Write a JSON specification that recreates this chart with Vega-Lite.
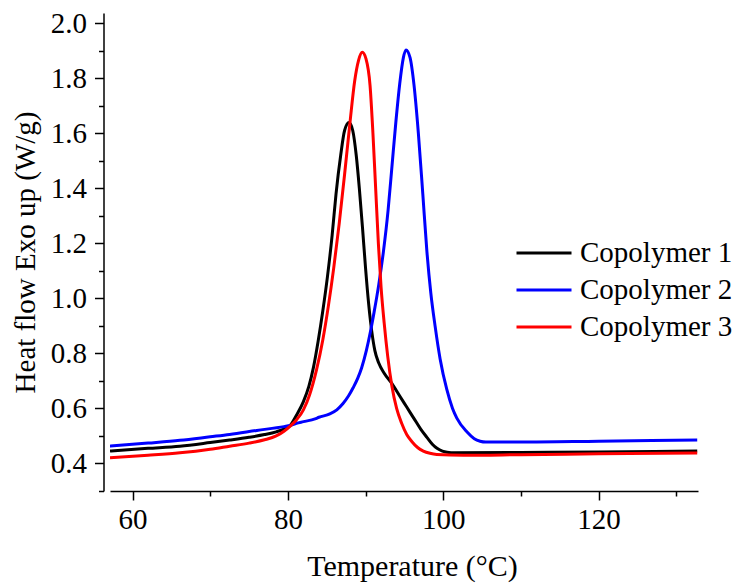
{
  "$schema": "https://vega.github.io/schema/vega-lite/v6.json",
  "width": 588,
  "height": 478,
  "autosize": "none",
  "padding": {"left": 110, "top": 13, "right": 38, "bottom": 93},
  "background": "white",
  "config": {
    "view": {"stroke": null},
    "font": "Liberation Serif",
    "axis": {
      "domainColor": "black", "domainWidth": 1.5, "tickColor": "black", "tickWidth": 1.5,
      "labelColor": "black", "titleColor": "black", "labelFont": "Liberation Serif",
      "titleFont": "Liberation Serif", "labelFontSize": 29, "titleFontSize": 29,
      "titleFontWeight": "normal", "grid": false
    }
  },
  "data": {"values": [
    {"s":"Copolymer 1","t":57.1,"v":0.445},{"s":"Copolymer 1","t":62,"v":0.455},{"s":"Copolymer 1","t":66.1,"v":0.463},{"s":"Copolymer 1","t":70,"v":0.476},{"s":"Copolymer 1","t":72.5,"v":0.485},{"s":"Copolymer 1","t":75,"v":0.495},{"s":"Copolymer 1","t":77,"v":0.505},{"s":"Copolymer 1","t":78.5,"v":0.515},{"s":"Copolymer 1","t":79.5,"v":0.525},{"s":"Copolymer 1","t":80.3,"v":0.538},{"s":"Copolymer 1","t":81.1,"v":0.575},{"s":"Copolymer 1","t":82.0,"v":0.625},{"s":"Copolymer 1","t":82.7,"v":0.68},{"s":"Copolymer 1","t":83.3,"v":0.75},{"s":"Copolymer 1","t":83.9,"v":0.845},{"s":"Copolymer 1","t":84.5,"v":0.955},{"s":"Copolymer 1","t":85.1,"v":1.08},{"s":"Copolymer 1","t":85.7,"v":1.23},{"s":"Copolymer 1","t":86.2,"v":1.38},{"s":"Copolymer 1","t":86.8,"v":1.52},{"s":"Copolymer 1","t":87.3,"v":1.61},{"s":"Copolymer 1","t":87.87,"v":1.639},{"s":"Copolymer 1","t":88.35,"v":1.61},{"s":"Copolymer 1","t":88.8,"v":1.52},{"s":"Copolymer 1","t":89.2,"v":1.4},{"s":"Copolymer 1","t":89.6,"v":1.26},{"s":"Copolymer 1","t":90.0,"v":1.11},{"s":"Copolymer 1","t":90.4,"v":0.98},{"s":"Copolymer 1","t":90.8,"v":0.88},{"s":"Copolymer 1","t":91.2,"v":0.81},{"s":"Copolymer 1","t":91.7,"v":0.765},{"s":"Copolymer 1","t":92.4,"v":0.728},{"s":"Copolymer 1","t":93.4,"v":0.69},{"s":"Copolymer 1","t":94.4,"v":0.645},{"s":"Copolymer 1","t":95.3,"v":0.605},{"s":"Copolymer 1","t":96.2,"v":0.565},{"s":"Copolymer 1","t":97.1,"v":0.525},{"s":"Copolymer 1","t":97.9,"v":0.495},{"s":"Copolymer 1","t":98.6,"v":0.47},{"s":"Copolymer 1","t":99.2,"v":0.455},{"s":"Copolymer 1","t":99.9,"v":0.445},{"s":"Copolymer 1","t":100.5,"v":0.441},{"s":"Copolymer 1","t":101.5,"v":0.439},{"s":"Copolymer 1","t":110,"v":0.44},{"s":"Copolymer 1","t":120,"v":0.442},{"s":"Copolymer 1","t":132.7,"v":0.445},
    {"s":"Copolymer 2","t":57.1,"v":0.463},{"s":"Copolymer 2","t":62,"v":0.474},{"s":"Copolymer 2","t":66.1,"v":0.484},{"s":"Copolymer 2","t":70,"v":0.497},{"s":"Copolymer 2","t":72.5,"v":0.5055},{"s":"Copolymer 2","t":76,"v":0.52},{"s":"Copolymer 2","t":79.5,"v":0.534},{"s":"Copolymer 2","t":80.3,"v":0.538},{"s":"Copolymer 2","t":81.1,"v":0.546},{"s":"Copolymer 2","t":82,"v":0.552},{"s":"Copolymer 2","t":83.5,"v":0.562},{"s":"Copolymer 2","t":84,"v":0.568},{"s":"Copolymer 2","t":85.4,"v":0.58},{"s":"Copolymer 2","t":86.3,"v":0.595},{"s":"Copolymer 2","t":87.1,"v":0.618},{"s":"Copolymer 2","t":87.8,"v":0.645},{"s":"Copolymer 2","t":88.4,"v":0.675},{"s":"Copolymer 2","t":89.0,"v":0.71},{"s":"Copolymer 2","t":89.5,"v":0.748},{"s":"Copolymer 2","t":90.1,"v":0.81},{"s":"Copolymer 2","t":90.6,"v":0.875},{"s":"Copolymer 2","t":91.1,"v":0.95},{"s":"Copolymer 2","t":91.7,"v":1.05},{"s":"Copolymer 2","t":92.3,"v":1.17},{"s":"Copolymer 2","t":92.9,"v":1.32},{"s":"Copolymer 2","t":93.4,"v":1.48},{"s":"Copolymer 2","t":93.9,"v":1.64},{"s":"Copolymer 2","t":94.4,"v":1.78},{"s":"Copolymer 2","t":94.87,"v":1.875},{"s":"Copolymer 2","t":95.21,"v":1.903},{"s":"Copolymer 2","t":95.73,"v":1.875},{"s":"Copolymer 2","t":96.24,"v":1.775},{"s":"Copolymer 2","t":96.8,"v":1.6},{"s":"Copolymer 2","t":97.37,"v":1.38},{"s":"Copolymer 2","t":97.9,"v":1.17},{"s":"Copolymer 2","t":98.4,"v":1.02},{"s":"Copolymer 2","t":98.95,"v":0.9},{"s":"Copolymer 2","t":99.6,"v":0.78},{"s":"Copolymer 2","t":100.46,"v":0.669},{"s":"Copolymer 2","t":101.2,"v":0.6},{"s":"Copolymer 2","t":101.75,"v":0.565},{"s":"Copolymer 2","t":103.04,"v":0.515},{"s":"Copolymer 2","t":104.0,"v":0.49},{"s":"Copolymer 2","t":104.75,"v":0.481},{"s":"Copolymer 2","t":105.5,"v":0.478},{"s":"Copolymer 2","t":110,"v":0.478},{"s":"Copolymer 2","t":120,"v":0.481},{"s":"Copolymer 2","t":132.7,"v":0.485},
    {"s":"Copolymer 3","t":57.1,"v":0.421},{"s":"Copolymer 3","t":62,"v":0.43},{"s":"Copolymer 3","t":66.1,"v":0.439},{"s":"Copolymer 3","t":70,"v":0.452},{"s":"Copolymer 3","t":72.5,"v":0.463},{"s":"Copolymer 3","t":75,"v":0.474},{"s":"Copolymer 3","t":77,"v":0.486},{"s":"Copolymer 3","t":78.5,"v":0.5},{"s":"Copolymer 3","t":79.5,"v":0.517},{"s":"Copolymer 3","t":80.3,"v":0.536},{"s":"Copolymer 3","t":81.1,"v":0.558},{"s":"Copolymer 3","t":82.0,"v":0.595},{"s":"Copolymer 3","t":82.8,"v":0.65},{"s":"Copolymer 3","t":83.7,"v":0.742},{"s":"Copolymer 3","t":84.5,"v":0.85},{"s":"Copolymer 3","t":85.2,"v":0.97},{"s":"Copolymer 3","t":85.9,"v":1.11},{"s":"Copolymer 3","t":86.6,"v":1.27},{"s":"Copolymer 3","t":87.3,"v":1.45},{"s":"Copolymer 3","t":88.0,"v":1.64},{"s":"Copolymer 3","t":88.6,"v":1.79},{"s":"Copolymer 3","t":89.1,"v":1.865},{"s":"Copolymer 3","t":89.58,"v":1.894},{"s":"Copolymer 3","t":90.06,"v":1.87},{"s":"Copolymer 3","t":90.58,"v":1.773},{"s":"Copolymer 3","t":90.95,"v":1.6},{"s":"Copolymer 3","t":91.3,"v":1.4},{"s":"Copolymer 3","t":91.65,"v":1.2},{"s":"Copolymer 3","t":92.0,"v":1.04},{"s":"Copolymer 3","t":92.4,"v":0.91},{"s":"Copolymer 3","t":92.85,"v":0.79},{"s":"Copolymer 3","t":93.4,"v":0.68},{"s":"Copolymer 3","t":94.0,"v":0.6},{"s":"Copolymer 3","t":94.66,"v":0.545},{"s":"Copolymer 3","t":95.3,"v":0.505},{"s":"Copolymer 3","t":95.95,"v":0.48},{"s":"Copolymer 3","t":96.7,"v":0.458},{"s":"Copolymer 3","t":97.44,"v":0.445},{"s":"Copolymer 3","t":98.3,"v":0.437},{"s":"Copolymer 3","t":99.17,"v":0.433},{"s":"Copolymer 3","t":102.6,"v":0.43},{"s":"Copolymer 3","t":110,"v":0.432},{"s":"Copolymer 3","t":120,"v":0.435},{"s":"Copolymer 3","t":132.7,"v":0.438}
  ]},
  "mark": {"type": "line", "strokeWidth": 3, "interpolate": "monotone", "clip": true},
  "encoding": {
    "x": {
      "field": "t", "type": "quantitative",
      "scale": {"domain": [57.1, 132.8], "nice": false, "zero": false},
      "axis": {
        "title": "Temperature (°C)",
        "values": [60, 70, 80, 90, 100, 110, 120, 130],
        "format": "d",
        "labelExpr": "datum.value % 20 === 0 ? datum.label : ''",
        "tickSize": {"condition": {"test": "datum.value % 20 === 0", "value": 9}, "value": 5},
        "labelPadding": 5,
        "titlePadding": 17,
        "titleFontSize": 30,
        "titleX": 302
      }
    },
    "y": {
      "field": "v", "type": "quantitative",
      "scale": {"domain": [0.3, 2.037], "nice": false, "zero": false},
      "axis": {
        "title": "Heat flow Exo up (W/g)",
        "values": [0.3, 0.4, 0.5, 0.6, 0.7, 0.8, 0.9, 1.0, 1.1, 1.2, 1.3, 1.4, 1.5, 1.6, 1.7, 1.8, 1.9, 2.0],
        "format": ".1f",
        "offset": 6.5,
        "labelExpr": "round(datum.value * 10) % 2 === 0 ? datum.label : ''",
        "tickSize": {"condition": {"test": "round(datum.value * 10) % 2 === 0", "value": 9}, "value": 5},
        "labelPadding": 8,
        "titlePadding": 10
      }
    },
    "color": {
      "field": "s", "type": "nominal",
      "scale": {"domain": ["Copolymer 1", "Copolymer 2", "Copolymer 3"], "range": ["#000000", "#0000FF", "#FF0000"]},
      "legend": {
        "orient": "none", "legendX": 405, "legendY": 225, "title": null,
        "symbolType": "stroke", "symbolSize": 3025, "symbolStrokeWidth": 3,
        "labelFont": "Liberation Serif", "labelFontSize": 29, "labelColor": "black",
        "labelOffset": 7, "rowPadding": 7, "clipHeight": 30
      }
    }
  }
}
